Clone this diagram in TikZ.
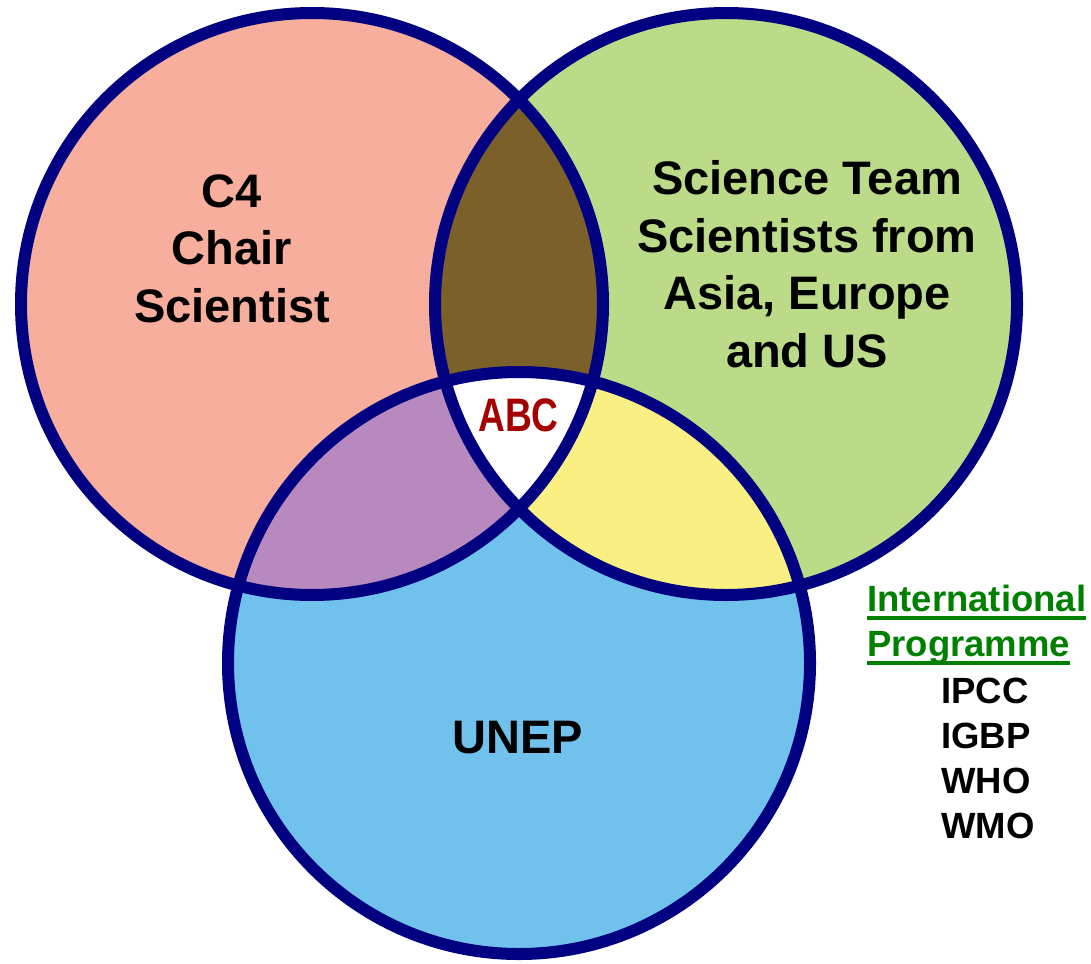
\documentclass[tikz,border=0pt]{standalone}
\usepackage{fontspec}
\setmainfont{Liberation Sans}
\definecolor{navyc}{HTML}{000080}
\definecolor{pinkc}{HTML}{F7AE9D}
\definecolor{greenc}{HTML}{BCDB88}
\definecolor{bluec}{HTML}{70C2EC}
\definecolor{brownc}{HTML}{7B6129}
\definecolor{purplec}{HTML}{B889BF}
\definecolor{yellowc}{HTML}{F9EF82}
\definecolor{abcred}{HTML}{A50000}
\definecolor{proggreen}{HTML}{008000}
\tikzset{
  big/.style={inner sep=0pt, font=\fontsize{47}{57.5}\selectfont\bfseries, text=black},
  abcstyle/.style={inner sep=0pt, font=\fontsize{47}{57.5}\selectfont\bfseries, text=abcred},
  progtitle/.style={inner sep=0pt, font=\fontsize{36.5}{45}\selectfont\bfseries, text=proggreen},
  proglist/.style={inner sep=0pt, font=\fontsize{36.5}{45}\selectfont\bfseries, text=black},
  outline/.style={draw=navyc, line width=12pt},
  uline/.style={draw=proggreen, line width=3.5pt}
}
\begin{document}
\begin{tikzpicture}[x=1pt,y=-1pt]
\useasboundingbox (0,0) rectangle (1091,963);
\def\rr{291}
\coordinate (L) at (312,304);
\coordinate (R) at (726,304);
\coordinate (B) at (519,663);
% base fills
\fill[pinkc] (L) circle[radius=\rr];
\fill[greenc] (R) circle[radius=\rr];
\fill[bluec] (B) circle[radius=\rr];
% pairwise overlaps
\begin{scope}
  \clip (L) circle[radius=\rr];
  \fill[brownc] (R) circle[radius=\rr];
\end{scope}
\begin{scope}
  \clip (L) circle[radius=\rr];
  \fill[purplec] (B) circle[radius=\rr];
\end{scope}
\begin{scope}
  \clip (R) circle[radius=\rr];
  \fill[yellowc] (B) circle[radius=\rr];
\end{scope}
% triple overlap
\begin{scope}
  \clip (L) circle[radius=\rr];
  \clip (R) circle[radius=\rr];
  \fill[white] (B) circle[radius=\rr];
\end{scope}
% outlines
\draw[outline] (L) circle[radius=\rr];
\draw[outline] (R) circle[radius=\rr];
\draw[outline] (B) circle[radius=\rr];
% texts
\node[big, align=center] (c4) at (232,248.5) {C4\\Chair\\Scientist};
\node[big, align=center] (sci) at (807,264) {Science Team\\Scientists from\\Asia, Europe\\and US};
\node[big] (unep) at (518,738) {UNEP};
\node[abcstyle] (abc) at (518.5,415) {\scalebox{0.79}[1]{ABC}};
\node[progtitle, anchor=base west] (intl) at (867,611) {International};
\node[progtitle, anchor=base west] (prog) at (867,656) {Programme};
\draw[uline] ([yshift=-7pt]intl.base west) -- ([yshift=-7pt]intl.base east);
\draw[uline] ([yshift=-7pt]prog.base west) -- ([yshift=-7pt]prog.base east);
\node[proglist, anchor=north west, align=left] (orgs) at (941,678) {IPCC\\IGBP\\WHO\\WMO};
\end{tikzpicture}
\end{document}
